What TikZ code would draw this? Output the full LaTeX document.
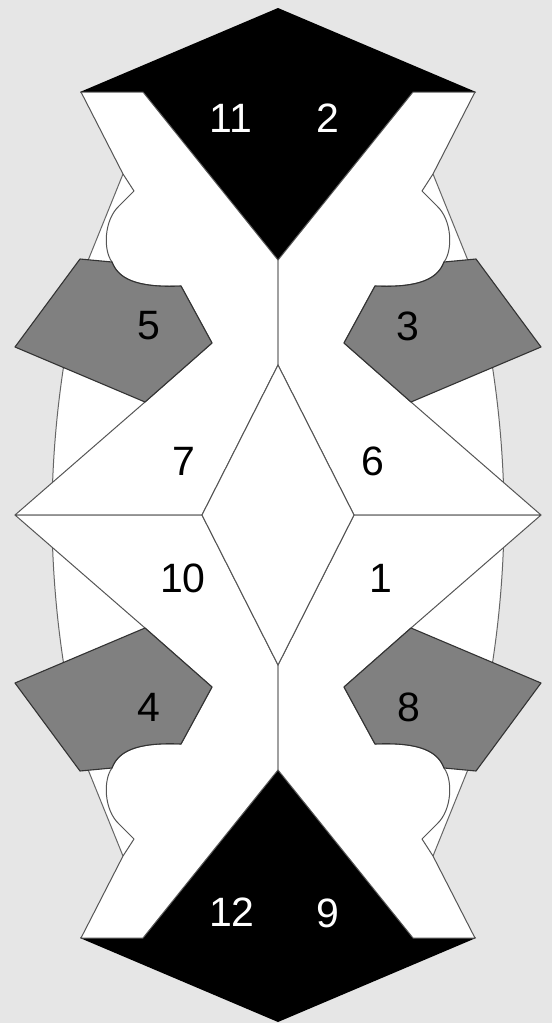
\documentclass[tikz,border=0pt]{standalone}
\usepackage{fontspec}
\setmainfont{Liberation Sans}
\definecolor{bgc}{HTML}{E6E6E6}
\definecolor{linec}{HTML}{555555}
\definecolor{ovalc}{HTML}{666666}
\definecolor{pentc}{HTML}{808080}
\definecolor{pentl}{HTML}{333333}
\definecolor{seamc}{HTML}{A0A0A0}
\newcommand\armpath{(81,92) -- (143,92) -- (278,260) -- (278,365) -- (202,515) -- (15,515) -- (145,402) -- (212,343) -- (181,286) .. controls (135,288) and (118,278) .. (112,262) .. controls (103,250) and (104,220) .. (119,206) -- (134,191) -- (123,174) -- cycle}
\newcommand\pentpath{(15,347) -- (80,259) -- (112,262) .. controls (118,278) and (135,288) .. (181,286) -- (212,343) -- (145,402) -- cycle}
\begin{document}
\begin{tikzpicture}[x=1pt,y=-1pt,
  piece/.style={fill=white, draw=linec, line width=1pt, line join=round},
  ovalshape/.style={fill=white, draw=ovalc, line width=1pt, line join=round},
  kite/.style={fill=black},
  penta/.style={fill=pentc, draw=pentl, line width=1.1pt, line join=round},
  seam/.style={draw=seamc, line width=2.4pt},
  lbl/.style={font=\fontsize{41}{41}\selectfont, inner sep=0pt, text=black},
  lblw/.style={lbl, text=white}]
% background
\fill[bgc] (0,0) rectangle (552,1023);
\useasboundingbox (0,0) rectangle (552,1023);
% oval behind
\path[ovalshape] (123,174) -- (87,263) .. controls (68,320) and (52,420) .. (52,515)
  .. controls (52,610) and (68,710) .. (87,767) -- (123,856) -- (278,890) -- (433,856)
  -- (469,767) .. controls (488,710) and (504,610) .. (504,515)
  .. controls (504,420) and (488,320) .. (469,263) -- (433,174) -- (278,140) -- cycle;
% black kites
\path[kite] (80,92) -- (278,8) -- (476,92) -- (278,260) -- cycle;
\path[kite] (80,938) -- (278,1022) -- (476,938) -- (278,770) -- cycle;
% white pieces 7, 6, 10, 1
\path[piece] \armpath;
\begin{scope}[xshift=556pt, xscale=-1]
  \path[piece] \armpath;
\end{scope}
\begin{scope}[yshift=-1030pt, yscale=-1]
  \path[piece] \armpath;
\end{scope}
\begin{scope}[xshift=556pt, xscale=-1, yshift=-1030pt, yscale=-1]
  \path[piece] \armpath;
\end{scope}
% central rhombus
\path[piece] (278,365) -- (202,515) -- (278,665) -- (354,515) -- cycle;
% seams between the arms
\draw[seam] (278,261) -- (278,364);
\draw[seam] (278,666) -- (278,769);
% grey pentagons 5, 3, 4, 8
\path[penta] \pentpath;
\begin{scope}[xshift=556pt, xscale=-1]
  \path[penta] \pentpath;
\end{scope}
\begin{scope}[yshift=-1030pt, yscale=-1]
  \path[penta] \pentpath;
\end{scope}
\begin{scope}[xshift=556pt, xscale=-1, yshift=-1030pt, yscale=-1]
  \path[penta] \pentpath;
\end{scope}
% labels
\node[lblw] (n11) at (231,118) {11};
\node[lblw] (n2) at (328,118) {2};
\node[lbl] (n5) at (149,326) {5};
\node[lbl] (n3) at (408,326) {3};
\node[lbl] (n7) at (184,461) {7};
\node[lbl] (n6) at (373,461) {6};
\node[lbl] (n10) at (183,578) {10};
\node[lbl] (n1) at (381,578) {1};
\node[lbl] (n4) at (149,707) {4};
\node[lbl] (n8) at (409,707) {8};
\node[lblw] (n12) at (232,912) {12};
\node[lblw] (n9) at (328,913) {9};
\end{tikzpicture}
\end{document}
